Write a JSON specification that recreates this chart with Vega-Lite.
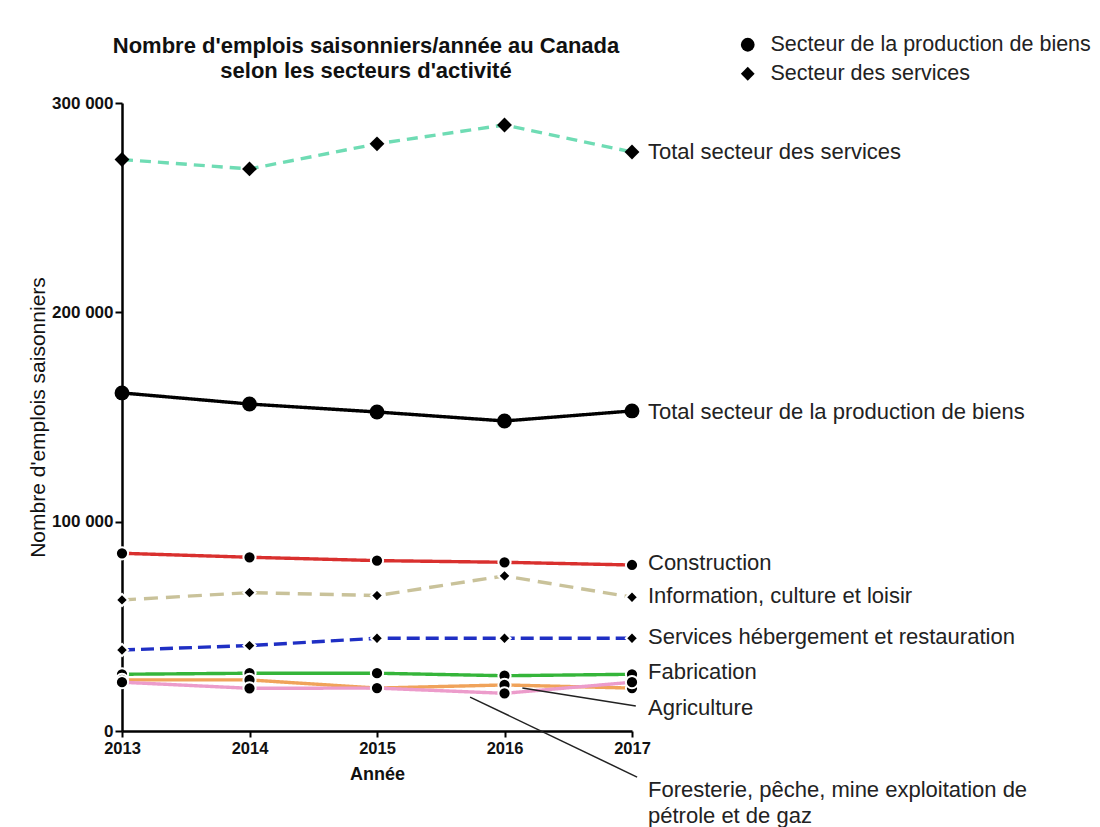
{
  "$schema": "https://vega.github.io/schema/vega-lite/v6.json",
  "width": 510,
  "height": 628,
  "autosize": {"type": "none"},
  "padding": {"left": 122, "top": 103, "right": 468, "bottom": 96},
  "background": "white",
  "config": {
    "view": {"stroke": null},
    "font": "Liberation Sans",
    "text": {"font": "Liberation Sans"}
  },
  "title": {
    "text": ["Nombre d'emplois saisonniers/année au Canada", "selon les secteurs d'activité"],
    "fontSize": 22,
    "fontWeight": "bold",
    "font": "Liberation Sans",
    "color": "#111111",
    "anchor": "middle",
    "dx": -11,
    "offset": -49,
    "lineHeight": 25
  },
  "datasets": {
    "series": [
      {"serie": "Total secteur des services", "secteur": "Secteur des services", "annee": 2013, "valeur": 273000},
      {"serie": "Total secteur des services", "secteur": "Secteur des services", "annee": 2014, "valeur": 268500},
      {"serie": "Total secteur des services", "secteur": "Secteur des services", "annee": 2015, "valeur": 280500},
      {"serie": "Total secteur des services", "secteur": "Secteur des services", "annee": 2016, "valeur": 289500},
      {"serie": "Total secteur des services", "secteur": "Secteur des services", "annee": 2017, "valeur": 276600},
      {"serie": "Total secteur de la production de biens", "secteur": "Secteur de la production de biens", "annee": 2013, "valeur": 161500},
      {"serie": "Total secteur de la production de biens", "secteur": "Secteur de la production de biens", "annee": 2014, "valeur": 156200},
      {"serie": "Total secteur de la production de biens", "secteur": "Secteur de la production de biens", "annee": 2015, "valeur": 152400},
      {"serie": "Total secteur de la production de biens", "secteur": "Secteur de la production de biens", "annee": 2016, "valeur": 148100},
      {"serie": "Total secteur de la production de biens", "secteur": "Secteur de la production de biens", "annee": 2017, "valeur": 152900},
      {"serie": "Construction", "secteur": "Secteur de la production de biens", "annee": 2013, "valeur": 84900},
      {"serie": "Construction", "secteur": "Secteur de la production de biens", "annee": 2014, "valeur": 83000},
      {"serie": "Construction", "secteur": "Secteur de la production de biens", "annee": 2015, "valeur": 81400},
      {"serie": "Construction", "secteur": "Secteur de la production de biens", "annee": 2016, "valeur": 80600},
      {"serie": "Construction", "secteur": "Secteur de la production de biens", "annee": 2017, "valeur": 79300},
      {"serie": "Information, culture et loisir", "secteur": "Secteur des services", "annee": 2013, "valeur": 62600},
      {"serie": "Information, culture et loisir", "secteur": "Secteur des services", "annee": 2014, "valeur": 66100},
      {"serie": "Information, culture et loisir", "secteur": "Secteur des services", "annee": 2015, "valeur": 64700},
      {"serie": "Information, culture et loisir", "secteur": "Secteur des services", "annee": 2016, "valeur": 74100},
      {"serie": "Information, culture et loisir", "secteur": "Secteur des services", "annee": 2017, "valeur": 63900},
      {"serie": "Services hébergement et restauration", "secteur": "Secteur des services", "annee": 2013, "valeur": 38700},
      {"serie": "Services hébergement et restauration", "secteur": "Secteur des services", "annee": 2014, "valeur": 40800},
      {"serie": "Services hébergement et restauration", "secteur": "Secteur des services", "annee": 2015, "valeur": 44300},
      {"serie": "Services hébergement et restauration", "secteur": "Secteur des services", "annee": 2016, "valeur": 44300},
      {"serie": "Services hébergement et restauration", "secteur": "Secteur des services", "annee": 2017, "valeur": 44300},
      {"serie": "Fabrication", "secteur": "Secteur de la production de biens", "annee": 2013, "valeur": 27100},
      {"serie": "Fabrication", "secteur": "Secteur de la production de biens", "annee": 2014, "valeur": 27600},
      {"serie": "Fabrication", "secteur": "Secteur de la production de biens", "annee": 2015, "valeur": 27600},
      {"serie": "Fabrication", "secteur": "Secteur de la production de biens", "annee": 2016, "valeur": 26400},
      {"serie": "Fabrication", "secteur": "Secteur de la production de biens", "annee": 2017, "valeur": 27100},
      {"serie": "Agriculture", "secteur": "Secteur de la production de biens", "annee": 2013, "valeur": 24400},
      {"serie": "Agriculture", "secteur": "Secteur de la production de biens", "annee": 2014, "valeur": 24400},
      {"serie": "Agriculture", "secteur": "Secteur de la production de biens", "annee": 2015, "valeur": 20500},
      {"serie": "Agriculture", "secteur": "Secteur de la production de biens", "annee": 2016, "valeur": 22000},
      {"serie": "Agriculture", "secteur": "Secteur de la production de biens", "annee": 2017, "valeur": 20500},
      {"serie": "Foresterie, pêche, mine exploitation de pétrole et de gaz", "secteur": "Secteur de la production de biens", "annee": 2013, "valeur": 23300},
      {"serie": "Foresterie, pêche, mine exploitation de pétrole et de gaz", "secteur": "Secteur de la production de biens", "annee": 2014, "valeur": 20400},
      {"serie": "Foresterie, pêche, mine exploitation de pétrole et de gaz", "secteur": "Secteur de la production de biens", "annee": 2015, "valeur": 20500},
      {"serie": "Foresterie, pêche, mine exploitation de pétrole et de gaz", "secteur": "Secteur de la production de biens", "annee": 2016, "valeur": 18000},
      {"serie": "Foresterie, pêche, mine exploitation de pétrole et de gaz", "secteur": "Secteur de la production de biens", "annee": 2017, "valeur": 23300}
    ],
    "etiquettes": [
      {"texte": "Total secteur des services", "annee": 2017, "valeur": 276600},
      {"texte": "Total secteur de la production de biens", "annee": 2017, "valeur": 152400},
      {"texte": "Construction", "annee": 2017, "valeur": 80300},
      {"texte": "Information, culture et loisir", "annee": 2017, "valeur": 64500},
      {"texte": "Services hébergement et restauration", "annee": 2017, "valeur": 44900},
      {"texte": "Fabrication", "annee": 2017, "valeur": 28200},
      {"texte": "Agriculture", "annee": 2017, "valeur": 11000},
      {"texte": "Foresterie, pêche, mine exploitation de\npétrole et de gaz", "annee": 2017, "valeur": -28200}
    ],
    "renvois": [
      {"x1": 2016.14, "y1": 20500, "x2": 2017.03, "y2": 11900},
      {"x1": 2015.73, "y1": 16200, "x2": 2017.04, "y2": -22000}
    ]
  },
  "encoding": {
    "x": {
      "field": "annee",
      "type": "quantitative",
      "scale": {"domain": [2013, 2017], "nice": false, "zero": false},
      "axis": {
        "values": [2013, 2014, 2015, 2016, 2017],
        "format": "d",
        "title": "Année",
        "grid": false,
        "labelFlush": false,
        "domainColor": "black",
        "domainWidth": 2.5,
        "tickColor": "black",
        "tickWidth": 2,
        "tickSize": 6,
        "labelFont": "Liberation Sans",
        "labelFontSize": 16.5,
        "labelFontWeight": "bold",
        "labelColor": "#111111",
        "labelPadding": 3,
        "titleFont": "Liberation Sans",
        "titleFontSize": 18,
        "titleFontWeight": "bold",
        "titleColor": "#111111",
        "titlePadding": 9
      }
    },
    "y": {
      "field": "valeur",
      "type": "quantitative",
      "scale": {"domain": [0, 300000], "nice": false},
      "axis": {
        "values": [0, 100000, 200000, 300000],
        "labelExpr": "replace(format(datum.value, ','), ',', ' ')",
        "title": "Nombre d'emplois saisonniers",
        "grid": false,
        "labelFlush": false,
        "domainColor": "black",
        "domainWidth": 2.5,
        "tickColor": "black",
        "tickWidth": 2,
        "tickSize": 7,
        "labelFont": "Liberation Sans",
        "labelFontSize": 17,
        "labelFontWeight": "bold",
        "labelColor": "#111111",
        "labelPadding": 2,
        "titleFont": "Liberation Sans",
        "titleFontSize": 21,
        "titleFontWeight": "normal",
        "titleColor": "#111111",
        "titlePadding": 3
      }
    }
  },
  "layer": [
    {
      "data": {"name": "series"},
      "mark": {"type": "line", "strokeWidth": 3.4},
      "encoding": {
        "color": {
          "field": "serie",
          "type": "nominal",
          "scale": {
            "domain": ["Total secteur des services", "Total secteur de la production de biens", "Construction", "Information, culture et loisir", "Services hébergement et restauration", "Fabrication", "Agriculture", "Foresterie, pêche, mine exploitation de pétrole et de gaz"],
            "range": ["#6fdcb4", "#000000", "#d9302e", "#c9c29a", "#1f2fc4", "#35b53a", "#f0a35a", "#ec9ccb"]
          },
          "legend": null
        },
        "strokeDash": {
          "field": "serie",
          "type": "nominal",
          "scale": {
            "domain": ["Total secteur des services", "Total secteur de la production de biens", "Construction", "Information, culture et loisir", "Services hébergement et restauration", "Fabrication", "Agriculture", "Foresterie, pêche, mine exploitation de pétrole et de gaz"],
            "range": [[11, 7], [1, 0], [1, 0], [14, 8], [13, 6], [1, 0], [1, 0], [1, 0]]
          },
          "legend": null
        }
      }
    },
    {
      "data": {"name": "series"},
      "transform": [{"filter": {"field": "serie", "oneOf": ["Construction", "Information, culture et loisir", "Services hébergement et restauration", "Fabrication", "Agriculture", "Foresterie, pêche, mine exploitation de pétrole et de gaz"]}}],
      "mark": {"type": "point", "filled": true, "size": 150, "color": "black", "opacity": 1, "stroke": "white", "strokeWidth": 2, "strokeOpacity": 1},
      "encoding": {
        "shape": {
          "field": "secteur",
          "type": "nominal",
          "scale": {"domain": ["Secteur de la production de biens", "Secteur des services"], "range": ["circle", "diamond"]},
          "legend": {
            "orient": "none",
            "legendX": 615,
            "legendY": -69,
            "title": null,
            "labelFont": "Liberation Sans",
            "labelFontSize": 21.5,
            "labelColor": "#222222",
            "symbolSize": 190,
            "symbolFillColor": "black",
            "symbolStrokeColor": "black",
            "symbolStrokeWidth": 0,
            "rowPadding": 6,
            "labelOffset": 12,
            "labelLimit": 500
          }
        }
      }
    },
    {
      "data": {"name": "series"},
      "transform": [{"filter": {"field": "serie", "oneOf": ["Total secteur des services", "Total secteur de la production de biens"]}}],
      "mark": {"type": "point", "filled": true, "size": 220, "color": "black", "opacity": 1},
      "encoding": {
        "shape": {
          "field": "secteur",
          "type": "nominal",
          "scale": {"domain": ["Secteur de la production de biens", "Secteur des services"], "range": ["circle", "diamond"]},
          "legend": {
            "orient": "none",
            "legendX": 615,
            "legendY": -69,
            "title": null,
            "labelFont": "Liberation Sans",
            "labelFontSize": 21.5,
            "labelColor": "#222222",
            "symbolSize": 190,
            "symbolFillColor": "black",
            "symbolStrokeColor": "black",
            "symbolStrokeWidth": 0,
            "rowPadding": 6,
            "labelOffset": 12,
            "labelLimit": 500
          }
        }
      }
    },
    {
      "data": {"name": "renvois"},
      "mark": {"type": "rule", "color": "#222222", "strokeWidth": 1.5},
      "encoding": {
        "x": {"field": "x1", "type": "quantitative"},
        "y": {"field": "y1", "type": "quantitative"},
        "x2": {"field": "x2"},
        "y2": {"field": "y2"}
      }
    },
    {
      "data": {"name": "etiquettes"},
      "mark": {"type": "text", "align": "left", "baseline": "middle", "dx": 16, "fontSize": 22, "font": "Liberation Sans", "color": "#222222", "lineBreak": "\n", "lineHeight": 26},
      "encoding": {
        "text": {"field": "texte"}
      }
    }
  ]
}
